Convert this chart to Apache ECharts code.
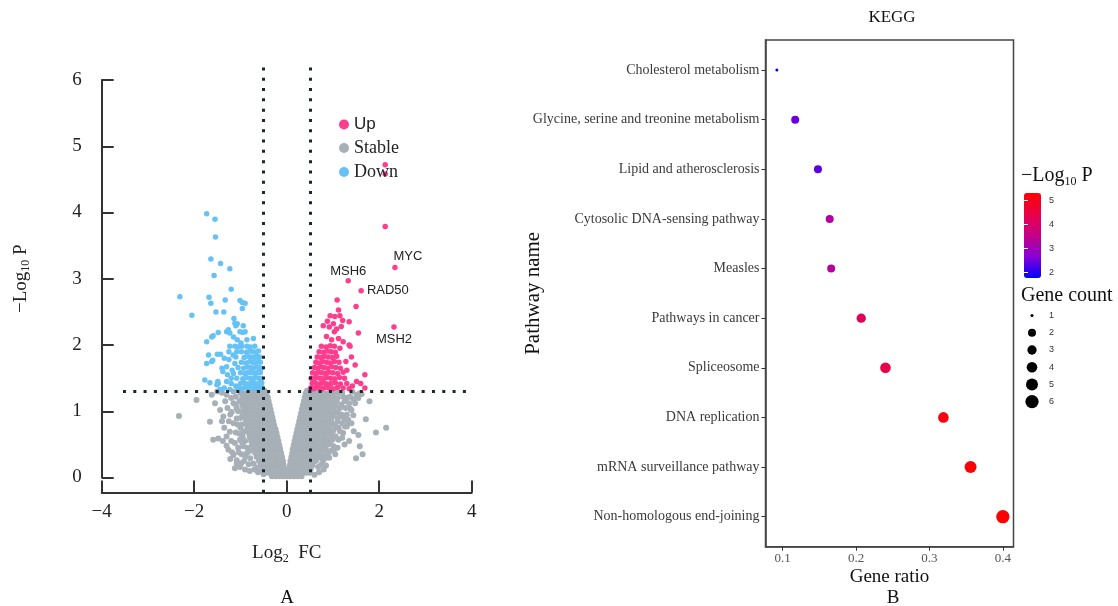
<!DOCTYPE html>
<html><head><meta charset="utf-8">
<script src="https://cdn.jsdelivr.net/npm/echarts@6/dist/echarts.min.js"></script>
<style>html,body{margin:0;padding:0;background:#fff}#c{width:1118px;height:606px}</style>
</head><body><div id="c"></div>
<script>
// ---------------- Panel A: volcano data ----------------
const fcCut = [-0.5, 0.5];
const pCut = 1.3;
const vLineY = [-0.23, 6.22];
const hLineX = [-3.54, 3.92];

const downPts = [
[-1.73,3.98],[-1.55,3.90],[-1.54,3.63],[-1.64,3.30],[-1.43,3.23],[-1.23,3.15],[-1.57,3.05],[-1.20,2.84],[-2.31,2.73],[-1.68,2.72],
[-1.64,2.63],[-1.33,2.68],[-1.01,2.67],[-0.96,2.64],[-0.90,2.63],[-1.53,2.50],[-1.36,2.50],[-0.96,2.55],[-2.05,2.45],[-1.14,2.40],
[-1.12,2.33],[-1.07,2.32],[-1.10,2.29],[-0.94,2.29],[-1.26,2.23],[-1.30,2.20],[-1.23,2.18],[-1.01,2.20],[-0.95,2.19],[-0.90,2.20],
[-1.48,2.19],[-1.59,2.14],[-1.62,2.12],[-1.73,2.05],[-1.15,2.12],[-1.07,2.08],[-0.99,2.03],[-0.86,2.08],[-0.72,2.10],[-1.23,1.98],
[-1.12,1.98],[-1.05,1.97],[-0.97,1.98],[-0.86,1.98],[-0.79,1.97],[-0.69,1.98],
[-1.77,1.47],[-1.66,1.43],[-1.49,1.45],[-1.51,1.40],[-1.69,1.85],[-1.60,1.77],[-1.50,1.86],[-1.43,1.86],[-1.73,1.72],[-1.62,1.75],
[-1.30,1.67],[-1.15,1.57],[-1.44,1.33],[-1.23,1.33],[-1.48,1.42],[-1.38,1.60],[-1.25,1.78],[-1.20,1.50],[-1.10,1.38],[-1.35,1.35],
[-1.30,1.45],[-1.18,1.62],[-1.25,1.90],[-1.35,1.80],[-1.12,1.72],[-1.16,1.85],[-1.28,1.55],[-1.40,1.65],[-1.08,1.90],[-1.20,1.42],
[-1.05,1.35],[-0.98,1.34],[-0.90,1.36],[-0.83,1.35],[-0.76,1.34],[-0.70,1.36],[-0.64,1.35],[-0.58,1.34],[-0.53,1.36],
[-1.00,1.42],[-0.92,1.43],[-0.85,1.41],[-0.78,1.42],[-0.71,1.43],[-0.65,1.41],[-0.59,1.42],[-0.54,1.43],
[-1.08,1.50],[-0.95,1.49],[-0.87,1.51],[-0.80,1.50],[-0.73,1.49],[-0.67,1.51],[-0.61,1.50],[-0.55,1.49],
[-1.00,1.58],[-0.90,1.57],[-0.83,1.59],[-0.76,1.58],[-0.69,1.57],[-0.63,1.59],[-0.57,1.58],
[-1.05,1.66],[-0.93,1.65],[-0.85,1.67],[-0.78,1.66],[-0.72,1.65],[-0.66,1.67],[-0.60,1.66],[-0.55,1.65],
[-0.98,1.74],[-0.88,1.73],[-0.80,1.75],[-0.74,1.74],[-0.68,1.73],[-0.62,1.75],[-0.57,1.74],
[-1.10,1.82],[-0.92,1.81],[-0.84,1.83],[-0.77,1.82],[-0.70,1.81],[-0.64,1.83],[-0.59,1.82],
[-0.98,1.90],[-0.87,1.89],[-0.80,1.91],[-0.73,1.90],[-0.67,1.89],[-0.61,1.91]
];

const upPts = [
[2.13,4.72],[2.13,4.58],[2.13,3.79],[1.09,2.68],[1.12,2.53],[1.50,2.58],[1.55,2.18],[0.94,2.44],[1.04,2.43],[1.15,2.44],
[1.21,2.37],[1.35,2.35],[0.79,2.29],[0.92,2.27],[1.01,2.32],[1.08,2.24],[1.37,1.98],[0.86,2.13],[0.97,2.08],[1.12,2.10],
[1.22,2.05],[1.69,1.55],[1.48,1.70],[1.35,2.00],[1.69,1.35],[1.51,1.45],[1.30,1.62],[1.42,1.38],[1.25,1.50],[1.60,1.42],
[1.15,1.95],[1.40,1.82],[1.28,1.75],[1.03,2.20],[0.88,2.36],[1.18,2.28],
[0.52,1.35],[0.58,1.34],[0.64,1.36],[0.70,1.35],[0.77,1.34],[0.84,1.36],[0.92,1.35],[1.00,1.34],[1.10,1.36],[1.22,1.35],[1.35,1.34],
[0.55,1.42],[0.61,1.43],[0.67,1.41],[0.74,1.42],[0.81,1.43],[0.88,1.41],[0.96,1.42],[1.05,1.43],[1.16,1.41],[1.30,1.42],
[0.53,1.50],[0.59,1.49],[0.65,1.51],[0.72,1.50],[0.79,1.49],[0.87,1.51],[0.95,1.50],[1.04,1.49],[1.14,1.51],
[0.56,1.58],[0.62,1.57],[0.69,1.59],[0.76,1.58],[0.83,1.57],[0.91,1.59],[1.00,1.58],[1.10,1.57],[1.22,1.59],
[0.60,1.66],[0.67,1.65],[0.74,1.67],[0.81,1.66],[0.88,1.65],[0.97,1.67],[1.06,1.66],[1.16,1.65],
[0.63,1.74],[0.70,1.73],[0.78,1.75],[0.86,1.74],[0.94,1.73],[1.03,1.75],[1.13,1.74],
[0.66,1.82],[0.74,1.81],[0.82,1.83],[0.90,1.82],[0.99,1.81],[1.08,1.83],
[0.70,1.90],[0.79,1.89],[0.88,1.91],[0.96,1.90],[1.05,1.89],
[0.75,1.98],[0.85,1.97],[0.94,1.99],[1.03,1.98]
];

const geneNames = ['MYC', 'MSH6', 'RAD50', 'MSH2'];
const geneX = [2.34, 1.33, 1.61, 2.32];
const geneY = [3.17, 2.97, 2.82, 2.27];

// dense core of non-significant genes, row by row: [ -log10P, [log2FC values] ]
const stableCoreRows = [
[0.02,[-0.32,-0.24,-0.16,-0.08,0,0.08,0.16,0.24,0.32]],
[0.07,[-0.46,-0.38,-0.3,-0.22,-0.14,-0.06,0.02,0.1,0.18,0.26,0.34,0.42,0.5]],
[0.13,[-0.52,-0.44,-0.36,-0.28,-0.2,-0.12,-0.04,0.04,0.12,0.2,0.28,0.36,0.44,0.52]],
[0.19,[-0.56,-0.48,-0.4,-0.32,-0.24,-0.16,-0.07,0.07,0.15,0.23,0.31,0.39,0.47,0.56]],
[0.25,[-0.6,-0.52,-0.44,-0.37,-0.29,-0.22,-0.15,-0.08,0.08,0.15,0.22,0.3,0.38,0.46,0.55,0.63]],
[0.31,[-0.65,-0.57,-0.49,-0.42,-0.34,-0.27,-0.19,-0.1,0.1,0.17,0.24,0.32,0.4,0.48,0.57,0.67]],
[0.37,[-0.68,-0.6,-0.52,-0.45,-0.37,-0.29,-0.21,-0.12,0.12,0.19,0.26,0.34,0.42,0.5,0.59,0.7]],
[0.43,[-0.72,-0.64,-0.56,-0.48,-0.4,-0.32,-0.24,-0.14,0.13,0.2,0.28,0.36,0.44,0.52,0.61,0.72,0.8]],
[0.49,[-0.75,-0.67,-0.59,-0.51,-0.43,-0.35,-0.26,-0.16,0.15,0.22,0.3,0.38,0.46,0.54,0.63,0.74,0.84]],
[0.55,[-0.77,-0.69,-0.61,-0.53,-0.45,-0.37,-0.28,-0.18,0.17,0.24,0.32,0.4,0.48,0.56,0.65,0.76,0.86]],
[0.61,[-0.8,-0.72,-0.64,-0.56,-0.48,-0.4,-0.31,-0.2,0.19,0.26,0.34,0.42,0.5,0.58,0.67,0.78,0.88]],
[0.67,[-0.82,-0.74,-0.66,-0.58,-0.5,-0.42,-0.33,-0.22,0.21,0.28,0.36,0.44,0.52,0.6,0.69,0.8,0.9]],
[0.73,[-0.84,-0.76,-0.68,-0.6,-0.52,-0.44,-0.35,-0.24,0.23,0.3,0.38,0.46,0.54,0.62,0.71,0.82,0.92]],
[0.79,[-0.86,-0.78,-0.7,-0.62,-0.54,-0.46,-0.37,-0.27,0.25,0.32,0.4,0.48,0.56,0.64,0.73,0.84,0.94]],
[0.85,[-0.88,-0.8,-0.72,-0.64,-0.56,-0.48,-0.39,-0.29,0.27,0.34,0.42,0.5,0.58,0.66,0.75,0.86,0.96]],
[0.91,[-0.9,-0.82,-0.74,-0.66,-0.58,-0.5,-0.41,-0.31,0.29,0.36,0.44,0.52,0.6,0.68,0.77,0.88,0.98]],
[0.97,[-0.92,-0.84,-0.76,-0.68,-0.6,-0.52,-0.43,-0.33,0.31,0.38,0.46,0.54,0.62,0.7,0.79,0.9,1.0]],
[1.03,[-0.94,-0.86,-0.78,-0.7,-0.62,-0.54,-0.45,-0.35,0.33,0.4,0.48,0.56,0.64,0.72,0.81,0.92,1.02]],
[1.09,[-0.96,-0.88,-0.8,-0.72,-0.64,-0.56,-0.47,-0.37,0.35,0.42,0.5,0.58,0.66,0.74,0.83,0.94,1.04]],
[1.15,[-0.98,-0.9,-0.82,-0.74,-0.66,-0.58,-0.49,-0.39,0.37,0.44,0.52,0.6,0.68,0.76,0.85,0.96,1.06]],
[1.21,[-0.96,-0.88,-0.8,-0.72,-0.64,-0.56,-0.49,-0.41,0.39,0.46,0.54,0.62,0.7,0.78,0.87,0.98]],
[1.27,[-0.92,-0.84,-0.76,-0.68,-0.6,-0.52,-0.44,0.41,0.48,0.56,0.64,0.72,0.8,0.9]],
[1.31,[-0.8,-0.72,-0.64,-0.56,-0.48,0.44,0.52,0.6,0.68]]
];

const stableScatter = [
[-2.33,0.93],[-1.95,1.17],[-1.66,0.84],[-1.59,0.57],[-1.48,0.59],[-1.55,1.12],[-1.44,1.02],[-1.37,0.92],[-1.26,0.42],[-1.15,0.34],
[-1.08,0.26],[-1.12,0.14],[-1.08,0.21],[-1.01,0.16],[-1.30,0.62],[-1.23,0.69],[-1.15,0.82],[-1.08,0.89],[-1.19,0.99],[-1.01,0.57],
[-0.94,0.47],[-0.86,0.37],[-0.79,0.29],[-0.72,0.21],[-1.30,1.25],[-1.20,1.20],[-1.10,1.10],[-1.00,1.28],[-1.05,1.00],[-0.98,1.15],
[-0.95,0.95],[-1.00,0.75],[-0.92,0.70],[-0.90,0.55],[-0.95,0.62],[-0.88,0.85],[-0.85,0.45],[-0.80,0.40],[-0.90,0.32],[-0.98,0.35],
[-1.05,0.45],[-1.12,0.52],[-1.20,0.55],[-0.82,0.20],[-0.70,0.12],[-0.62,0.08],[-0.55,0.10],[-0.50,0.05],[-0.65,0.15],[-1.40,1.28],
[-1.62,1.25],[-1.10,0.68],[-1.25,0.85],[-1.35,0.75],[-0.95,1.22],[-1.15,1.30],
[-1.10,1.22],[-1.02,1.15],[-1.08,1.04],[-1.00,0.90],[-1.06,0.80],[-0.98,0.80],[-1.02,0.66],[-0.96,0.52],[-1.04,0.38],[-0.92,0.25],
[-0.98,0.22],[-0.90,0.12],[-0.80,0.10],[-1.18,0.38],[-1.22,0.28],[-1.30,0.48],[-1.38,0.55],[-1.40,0.85],[-1.28,1.05],[-1.50,1.30],
[-1.15,1.12],[-1.22,0.95],[-1.33,1.15],
[1.79,1.15],[1.71,0.88],[2.15,0.75],[1.93,0.68],[1.58,0.47],[1.64,0.35],[1.50,0.29],[1.55,0.64],[1.44,0.94],[1.37,1.04],
[1.33,0.82],[1.37,1.22],[1.51,1.25],[1.58,1.27],[1.26,0.77],[1.33,0.87],[1.19,0.92],[1.40,1.02],[1.48,1.12],[1.55,1.20],
[1.62,1.26],[0.60,0.04],[0.68,0.16],[0.79,0.26],[0.90,0.37],[1.01,0.47],[1.12,0.57],[1.22,0.67],[1.30,0.77],[1.00,1.25],
[1.10,1.20],[1.20,1.28],[1.05,1.10],[1.15,1.05],[1.25,1.15],[1.00,0.95],[1.10,0.85],[1.05,0.75],[0.95,0.65],[1.00,0.58],
[0.90,0.50],[0.85,0.42],[0.78,0.35],[0.72,0.30],[1.15,0.70],[1.30,1.20],[1.42,1.30],[1.10,0.98],[1.20,0.82],[0.70,0.08],
[0.75,0.20],[0.85,0.30],[0.95,0.40],[1.05,0.35],[1.25,0.50],[1.35,0.55],[1.45,0.70],
[1.02,1.30],[1.08,1.15],[1.12,1.28],[1.18,1.10],[1.22,1.22],[1.27,1.05],[1.10,0.90],[1.18,0.95],[1.05,0.80],[1.12,0.75],
[1.00,0.70],[1.06,0.62],[0.96,0.55],[1.02,0.42],[0.92,0.30],[0.85,0.18],[0.80,0.12],[1.10,0.45],[1.20,0.60],[1.30,0.95],
[1.35,1.12],[1.45,1.18],[1.25,0.88],[1.40,0.82]
];

// ---------------- Panel B: KEGG data ----------------
const pathways = ['Cholesterol metabolism','Glycine, serine and treonine metabolism','Lipid and atherosclerosis',
  'Cytosolic DNA-sensing pathway','Measles','Pathways in cancer','Spliceosome','DNA replication',
  'mRNA surveillance pathway','Non-homologous end-joining'];
const geneRatio = [0.092, 0.117, 0.148, 0.164, 0.166, 0.207, 0.240, 0.319, 0.356, 0.400];
const geneCount = [1, 2, 2, 2, 2, 3, 4, 4, 5, 6];
const negLog10P = [1.76, 2.45, 2.35, 3.25, 3.30, 4.20, 4.45, 5.15, 5.25, 5.30];
const ratioTicks = [0.1, 0.2, 0.3, 0.4];
const countLevels = [1, 2, 3, 4, 5, 6];
const colorTicks = [2, 3, 4, 5];

// ---------------- styling helpers ----------------
const SERIF = "'Liberation Serif','DejaVu Serif',serif";
const SANS = "'Liberation Sans','DejaVu Sans',sans-serif";
const sizeScale = [3, 8, 9.3, 10.6, 12, 13.3];
const sizeFor = c => sizeScale[c - 1];
const UP = '#ff3d8d', DOWN = '#66c2f5', STABLE = '#a7afb7', DOT = '#1b2431';
const labelStyle = {
  MYC:   {position: 'top', distance: 2, offset: [13, 0]},
  MSH6:  {position: 'top', distance: 0},
  RAD50: {position: 'right', distance: 3},
  MSH2:  {position: 'bottom', distance: 3}
};

const stablePts = [];
stableCoreRows.forEach(r => r[1].forEach(x => stablePts.push([x, r[0]])));
stableScatter.forEach(p => stablePts.push(p));

const upData = upPts.map(p => p.slice());
geneNames.forEach((n, i) => {
  upData.push({value: [geneX[i], geneY[i]], name: n,
    label: Object.assign({show: true, formatter: n, fontFamily: SANS, fontSize: 13, color: '#222'}, labelStyle[n])});
});

const minus = v => String(v).replace('-', '\u2212');
const subRich = (size, sub) => ({
  a: {fontFamily: SERIF, fontSize: size, color: '#222', lineHeight: size + 3},
  s: {fontFamily: SERIF, fontSize: sub, color: '#222', verticalAlign: 'bottom', lineHeight: sub + 1}
});

const chart = echarts.init(document.getElementById('c'), null, {renderer: 'canvas'});
const option = {
  backgroundColor: '#fff',
  animation: false,
  grid: [
    {left: 101.7, top: 80, width: 370, height: 397.5},
    {left: 765.5, top: 40, width: 248, height: 506.7, show: true, borderColor: '#444', borderWidth: 1.5, backgroundColor: 'transparent'},
    {left: 1024, top: 193, width: 17, height: 85},
    {left: 1024, top: 307, width: 16, height: 103.2}
  ],
  xAxis: [
    {type: 'value', gridIndex: 0, min: -4, max: 4, interval: 2, offset: 15,
     axisLine: {onZero: false, lineStyle: {color: '#333', width: 2}},
     axisTick: {inside: true, length: 12, lineStyle: {color: '#333', width: 2}},
     axisLabel: {fontFamily: SERIF, fontSize: 19, color: '#222', margin: 10, formatter: minus},
     splitLine: {show: false},
     name: '{a|Log}{s|2}{a|  FC}', nameLocation: 'middle', nameGap: 50, nameMoveOverlap: false,
     nameTextStyle: {rich: subRich(19, 12)}},
    {type: 'value', gridIndex: 1, min: 0.0765, max: 0.4145,
     axisLine: {onZero: false, lineStyle: {color: '#444', width: 1.5}},
     axisTick: {length: 4, customValues: ratioTicks, lineStyle: {color: '#333'}},
     axisLabel: {customValues: ratioTicks, fontFamily: SERIF, fontSize: 13, color: '#555', margin: 5},
     splitLine: {show: false},
     name: 'Gene ratio', nameLocation: 'middle', nameGap: 21, nameMoveOverlap: false,
     nameTextStyle: {fontFamily: SERIF, fontSize: 19, color: '#111'}},
    {type: 'value', gridIndex: 2, show: false, min: 0, max: 1},
    {type: 'category', gridIndex: 3, show: false, data: ['']}
  ],
  yAxis: [
    {type: 'value', gridIndex: 0, min: 0, max: 6, interval: 1,
     axisLine: {show: true, onZero: false, lineStyle: {color: '#333', width: 2}},
     axisTick: {show: true, inside: true, length: 12, lineStyle: {color: '#333', width: 2}},
     axisLabel: {fontFamily: SERIF, fontSize: 19, color: '#222', margin: 20},
     splitLine: {show: false},
     name: '{a|\u2212Log}{s|10}{a| P}', nameLocation: 'middle', nameGap: 70, nameRotate: 90, nameMoveOverlap: false,
     nameTextStyle: {rich: subRich(19, 12)}},
    {type: 'value', gridIndex: 1, min: -0.605, max: 9.605, inverse: true,
     axisLine: {show: true, onZero: false, lineStyle: {color: '#444', width: 1.5}},
     axisTick: {show: true, length: 4, customValues: pathways.map((p, i) => i), lineStyle: {color: '#333'}},
     axisLabel: {customValues: pathways.map((p, i) => i), formatter: v => pathways[Math.round(v)],
       fontFamily: SERIF, fontSize: 14, color: '#3a3a3a', margin: 6},
     splitLine: {show: false},
     name: 'Pathway name', nameLocation: 'middle', nameGap: 222, nameRotate: 90, nameMoveOverlap: false,
     nameTextStyle: {fontFamily: SERIF, fontSize: 21, color: '#111'}},
    {type: 'value', gridIndex: 2, min: 1.76, max: 5.32, position: 'right', z: 10,
     axisLine: {show: false},
     axisTick: {show: true, inside: true, length: 4, customValues: colorTicks, lineStyle: {color: '#fff', width: 1}},
     axisLabel: {customValues: colorTicks, fontFamily: SANS, fontSize: 9, color: '#333', margin: 8},
     splitLine: {show: false}},
    {type: 'value', gridIndex: 2, min: 1.76, max: 5.32, position: 'left', z: 10,
     axisLine: {show: false},
     axisTick: {show: true, inside: true, length: 4, customValues: colorTicks, lineStyle: {color: '#fff', width: 1}},
     axisLabel: {show: false}, splitLine: {show: false}},
    {type: 'category', gridIndex: 3, data: countLevels.map(String), inverse: true, position: 'right',
     axisLine: {show: false}, axisTick: {show: false},
     axisLabel: {fontFamily: SANS, fontSize: 9, color: '#333', margin: 9}}
  ],
  visualMap: [{
    type: 'continuous', seriesIndex: 4, dimension: 3, min: 1.76, max: 5.32,
    inRange: {color: ['#0000ff', '#8800d4', '#c40088', '#e8004a', '#ff0000']},
    left: 1024, top: 193, itemWidth: 17, itemHeight: 85, padding: 0,
    calculable: false, text: null, orient: 'vertical', hoverLink: false
  }],
  legend: {
    data: ['Up', 'Stable', 'Down'], orient: 'vertical', left: 334, top: 111,
    icon: 'circle', itemWidth: 10, itemHeight: 10, itemGap: 6,
    formatter: n => n === 'Up' ? '{s|' + n + '}' : '{r|' + n + '}',
    textStyle: {fontSize: 17, color: '#222', rich: {
      s: {fontFamily: SANS, fontSize: 17, color: '#222'},
      r: {fontFamily: SERIF, fontSize: 18, color: '#222'}}},
    selectedMode: false
  },
  graphic: [
    {type: 'text', x: 892, y: 18, style: {text: 'KEGG', font: '17px ' + SERIF, fill: '#111', align: 'center', verticalAlign: 'middle'}},
    {type: 'text', x: 287, y: 598, style: {text: 'A', font: '19px ' + SERIF, fill: '#111', align: 'center', verticalAlign: 'middle'}},
    {type: 'text', x: 893, y: 598, style: {text: 'B', font: '19px ' + SERIF, fill: '#111', align: 'center', verticalAlign: 'middle'}},
    {type: 'text', x: 1021, y: 176, style: {text: '{a|\u2212Log}{s|10}{a| P}', align: 'left', verticalAlign: 'middle',
      rich: {a: {fontFamily: SERIF, fontSize: 20, fill: '#111', lineHeight: 24}, s: {fontFamily: SERIF, fontSize: 12, fill: '#111', verticalAlign: 'bottom', lineHeight: 14}}}},
    {type: 'text', x: 1021, y: 296, style: {text: 'Gene count', font: '20px ' + SERIF, fill: '#111', align: 'left', verticalAlign: 'middle'}}
  ],
  series: [
    {name: 'Stable', type: 'scatter', xAxisIndex: 0, yAxisIndex: 0, data: stablePts, symbolSize: 6,
     itemStyle: {color: STABLE, opacity: 1}, clip: false, silent: true, z: 2},
    {name: 'Down', type: 'scatter', xAxisIndex: 0, yAxisIndex: 0, data: downPts, symbolSize: 5.5,
     itemStyle: {color: DOWN, opacity: 1}, clip: false, silent: true, z: 3},
    {name: 'Up', type: 'scatter', xAxisIndex: 0, yAxisIndex: 0, data: upData, symbolSize: 5.5,
     itemStyle: {color: UP, opacity: 1}, clip: false, silent: true, z: 3},
    {name: 'cutoffs', type: 'lines', coordinateSystem: 'cartesian2d', xAxisIndex: 0, yAxisIndex: 0, silent: true, z: 5,
     clip: false,
     lineStyle: {color: DOT, width: 3, type: [3, 7.3], opacity: 1},
     data: [
       {coords: [[fcCut[0], vLineY[0]], [fcCut[0], vLineY[1]]]},
       {coords: [[fcCut[1], vLineY[0]], [fcCut[1], vLineY[1]]]},
       {coords: [[hLineX[0], pCut], [hLineX[1], pCut]]}
     ]},
    {name: 'KEGG', type: 'scatter', xAxisIndex: 1, yAxisIndex: 1, silent: true, z: 4,
     data: pathways.map((p, i) => [geneRatio[i], i, geneCount[i], negLog10P[i]]),
     itemStyle: {opacity: 1},
     symbolSize: v => sizeFor(v[2])},
    {name: 'sizeLegend', type: 'scatter', xAxisIndex: 3, yAxisIndex: 4, silent: true,
     data: countLevels.map((c, i) => [0, i, c]), symbolSize: v => sizeFor(v[2]),
     itemStyle: {color: '#000', opacity: 1}}
  ]
};
chart.setOption(option);
</script></body></html>
